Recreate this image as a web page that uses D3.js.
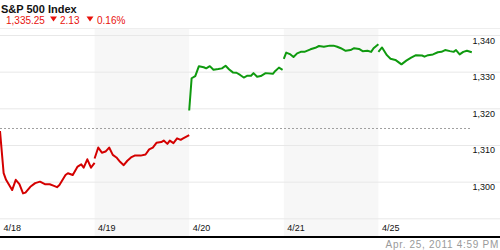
<!DOCTYPE html>
<html>
<head>
<meta charset="utf-8">
<script src="https://cdn.jsdelivr.net/npm/d3@7"></script>
<style>
  body { margin: 0; background: #fff; }
  svg { display: block; font-family: Arial, 'Liberation Sans', sans-serif; }
</style>
</head>
<body>
<div class="container"></div>
<script>
// 5 day intraday, minutes after the 9:30 open -> index level
const dayLabels = ['4/18', '4/19', '4/20', '4/21', '4/25'];

const day418 = [[0,1313.8],[15,1302.3],[25,1300.5],[50,1297.7],[65,1300.5],[80,1299.3],[95,1296.8],[105,1297.0],
  [125,1298.6],[145,1299.6],[165,1300.0],[185,1299.3],[205,1299.3],[220,1298.9],[235,1298.5],[245,1299.1],
  [270,1301.8],[280,1302.3],[300,1301.8],[320,1304.1],[335,1304.7],[345,1303.8],[360,1306.1],[375,1303.8],[390,1305.1]];

const day419 = [[0,1306.3],[15,1309.3],[30,1307.9],[45,1308.2],[60,1309.3],[75,1307.3],[90,1306.6],[105,1305.4],
  [120,1304.5],[135,1305.7],[150,1306.6],[165,1307.1],[190,1307.1],[210,1307.4],[225,1308.8],[240,1309.3],
  [255,1310.6],[275,1310.8],[285,1311.2],[300,1310.3],[310,1311.2],[325,1310.5],[340,1311.8],[355,1311.4],
  [365,1311.8],[390,1312.7]];

const day420 = [[0,1319.4],[10,1328.2],[25,1328.8],[40,1331.5],[60,1331.2],[70,1330.9],[85,1331.5],[100,1330.5],
  [120,1330.7],[135,1330.9],[150,1331.6],[165,1330.6],[180,1329.8],[195,1329.7],[210,1329.1],[225,1328.4],
  [240,1328.9],[255,1328.9],[265,1329.6],[280,1328.6],[295,1328.8],[315,1329.6],[345,1329.4],[355,1330.2],
  [370,1331.1],[385,1330.5]];

const day421 = [[0,1333.5],[10,1335.2],[25,1334.8],[40,1334.0],[55,1335.0],[70,1335.4],[85,1335.4],[110,1336.1],
  [130,1336.5],[145,1337.0],[165,1336.8],[190,1337.1],[205,1337.1],[220,1336.8],[235,1336.4],[255,1335.7],
  [275,1335.9],[290,1336.4],[310,1336.2],[325,1335.6],[345,1335.7],[360,1335.4],[370,1336.4],[390,1337.5]];

const day425 = [[0,1335.4],[15,1336.6],[35,1334.5],[50,1333.5],[70,1333.2],[95,1332.0],[115,1333.0],[135,1333.8],
  [155,1334.5],[180,1334.4],[190,1334.1],[205,1334.5],[225,1334.7],[245,1335.3],[260,1335.4],[275,1335.9],
  [295,1335.6],[310,1335.4],[320,1335.9],[335,1334.7],[350,1335.4],[365,1335.7],[385,1335.3]];

const days = [day418, day419, day420, day421, day425];

const refLevel = 1314.55;
const gridValues = [1290, 1300, 1310, 1320, 1330, 1340];
const yTickLabels = [1300, 1310, 1320, 1330, 1340];

const title = 'S&P 500 Index';
const lastPrice = '1,335.25';
const change = '2.13';
const changePct = '0.16%';
const stamp = 'Apr. 25, 2011 4:59 PM';

const width = 500;
const height = 250;
const sessionLen = 390;
const plotTop = 28;
const plotBottom = 237;

const svg = d3.select('.container')
  .append('svg')
  .attr('width', width)
  .attr('height', height);

const x = d3.scaleLinear()
  .domain([0, sessionLen * days.length])
  .range([0, 473]);

const y = d3.scaleLinear()
  .domain([1290, 1340])
  .range([218.3, 35]);

// shaded bands on alternate days
svg.append('g')
  .selectAll('rect')
  .data(dayLabels.map((d, i) => i).filter(i => i % 2 === 1))
  .enter()
  .append('rect')
  .attr('x', i => x(i * sessionLen))
  .attr('width', i => x((i + 1) * sessionLen) - x(i * sessionLen))
  .attr('y', plotTop)
  .attr('height', plotBottom - plotTop)
  .attr('fill', '#f7f7f7');

svg.append('line')
  .attr('x1', 0).attr('x2', width)
  .attr('y1', plotTop + 0.5).attr('y2', plotTop + 0.5)
  .attr('stroke', '#eeeeee');

// horizontal grid
const grid = svg.append('g')
  .call(d3.axisRight(y).tickValues(gridValues).tickSize(width).tickFormat(''));
grid.select('.domain').remove();
grid.selectAll('line').attr('stroke', '#e8e8e8');

// y labels, right side under each gridline
svg.append('g')
  .selectAll('text')
  .data(yTickLabels)
  .enter()
  .append('text')
  .attr('x', 495)
  .attr('y', d => y(d) + 8.5)
  .attr('text-anchor', 'end')
  .attr('font-size', '9px')
  .attr('fill', '#111')
  .text(d => d3.format(',')(d));

// previous close
svg.append('line')
  .attr('x1', 0).attr('x2', 471)
  .attr('y1', Math.round(y(refLevel)) + 0.5).attr('y2', Math.round(y(refLevel)) + 0.5)
  .attr('stroke', '#a0a0a0')
  .attr('stroke-dasharray', '2,2');

const line = d3.line()
  .x(d => d[0])
  .y(d => y(d[1]));

svg.append('g')
  .selectAll('path')
  .data(days)
  .enter()
  .append('path')
  .attr('d', (d, i) => line(d.map(p => [x(i * sessionLen + p[0]), p[1]])))
  .attr('fill', 'none')
  .attr('stroke', d => d3.mean(d, p => p[1]) > refLevel ? '#0f9a0f' : '#d40000')
  .attr('stroke-width', 2)
  .attr('stroke-linejoin', 'round');

// day labels
const xAxis = svg.append('g')
  .attr('transform', `translate(0,${plotBottom})`)
  .call(d3.axisBottom(x)
    .tickValues(dayLabels.map((d, i) => i * sessionLen))
    .tickSize(0)
    .tickFormat((d, i) => dayLabels[i]));
xAxis.select('.domain').remove();
xAxis.selectAll('text')
  .attr('text-anchor', 'start')
  .attr('x', 3)
  .attr('y', -6)
  .attr('dy', 0)
  .attr('font-size', '9px')
  .attr('font-family', "Arial, 'Liberation Sans', sans-serif")
  .attr('fill', '#111');

svg.append('line')
  .attr('x1', 0).attr('x2', width)
  .attr('y1', plotBottom).attr('y2', plotBottom)
  .attr('stroke', '#000')
  .attr('stroke-width', 2);

svg.append('text')
  .attr('x', 499)
  .attr('y', 248)
  .attr('text-anchor', 'end')
  .attr('font-size', '10px')
  .attr('letter-spacing', '0.7px')
  .attr('fill', '#9a9a9a')
  .text(stamp);

// header
svg.append('text')
  .attr('x', 1)
  .attr('y', 13)
  .attr('font-size', '11px')
  .attr('font-weight', 'bold')
  .attr('fill', '#111')
  .text(title);

const red = '#e8120c';
const head = svg.append('g').attr('font-size', '10px').attr('fill', red);
head.append('text').attr('x', 6).attr('y', 24).text(lastPrice);
head.append('text').attr('x', 60).attr('y', 24).text(change);
head.append('text').attr('x', 97).attr('y', 24).text(changePct);

head.selectAll('path')
  .data([53.5, 90])
  .enter()
  .append('path')
  .attr('transform', d => `translate(${d},19)`)
  .attr('d', 'M-3.5,-2.5 L3.5,-2.5 L0,2.5 Z')
  .attr('fill', red);
</script>
</body>
</html>
